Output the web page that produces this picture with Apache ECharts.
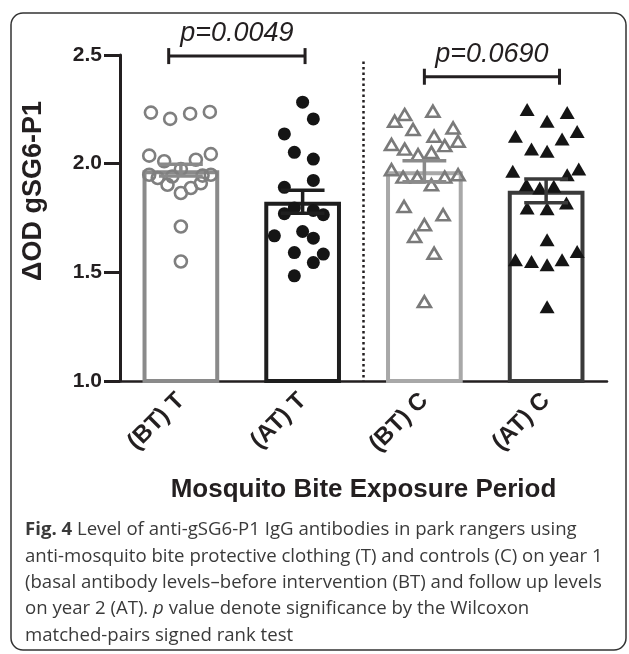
<!DOCTYPE html>
<html>
<head>
<meta charset="utf-8">
<script src="https://cdn.jsdelivr.net/npm/echarts@6/dist/echarts.min.js"></script>
<style>
html,body{margin:0;padding:0;background:#fff;}
#chart{width:629px;height:654px;}
</style>
</head>
<body>
<div id="chart"></div>
<script>
// ---- data ----
const categories = ['(BT) T', '(AT) T', '(BT) C', '(AT) C'];
const yMin = 1.0, yMax = 2.5, yStep = 0.5;
const means = [1.97, 1.825, 1.965, 1.875];
const sems = [0.027, 0.053, 0.048, 0.055];

const btTValues = [2.235, 2.206, 2.23, 2.238, 2.037, 2.011, 1.975, 2.018, 2.044, 1.949, 1.934, 1.941, 1.945, 1.949, 1.903, 1.865, 1.888, 1.91, 1.711, 1.55];
const btTJitter = [-0.246, -0.088, 0.076, 0.238, -0.26, -0.137, 0.0, 0.123, 0.246, -0.26, -0.19, -0.07, 0.178, 0.246, -0.11, 0.0, 0.082, 0.164, 0.0, 0.0];

const atTValues = [2.283, 2.206, 2.137, 2.052, 2.021, 1.891, 1.923, 1.77, 1.796, 1.785, 1.765, 1.668, 1.688, 1.657, 1.591, 1.584, 1.545, 1.484];
const atTJitter = [0.0, 0.088, -0.15, -0.068, 0.088, -0.15, 0.088, -0.15, -0.068, 0.088, 0.17, -0.232, 0.0, 0.088, -0.068, 0.17, 0.088, -0.068];

const btCValues = [2.241, 2.195, 2.226, 2.157, 2.164, 2.126, 2.103, 2.088, 2.067, 2.083, 2.041, 2.052, 1.972, 1.938, 1.938, 1.903, 1.938, 1.949, 1.803, 1.765, 1.719, 1.665, 1.588, 1.365];
const btCJitter = [0.07, -0.244, -0.162, -0.093, 0.236, 0.08, 0.277, -0.27, -0.162, 0.167, -0.052, 0.058, -0.27, -0.175, -0.058, 0.058, 0.167, 0.277, -0.167, 0.154, 0.0, -0.08, 0.08, 0.0];

const atCValues = [2.249, 2.236, 2.195, 2.126, 2.113, 2.148, 2.068, 2.057, 1.965, 1.949, 1.975, 1.903, 1.888, 1.896, 1.796, 1.793, 1.819, 1.65, 1.558, 1.55, 1.535, 1.558, 1.596, 1.342];
const atCJitter = [-0.156, 0.173, 0.008, -0.252, 0.131, 0.255, -0.12, 0.008, -0.274, 0.173, 0.268, -0.162, -0.052, 0.063, -0.156, 0.008, 0.167, 0.008, -0.252, -0.12, 0.008, 0.131, 0.255, 0.008];

const pLabels = ['p=0.0049', 'p=0.0690'];
const bracketStart = [-0.1, 2.0];
const bracketEnd = [1.02, 3.11];
const bracketLevel = [2.495, 2.40];
const dividerTop = 2.47;

const xTitle = 'Mosquito Bite Exposure Period';
const yTitle = '\u0394OD gSG6-P1';
const captionLines = [
  '{b|Fig. 4} Level of anti-gSG6-P1 IgG antibodies in park rangers using',
  'anti-mosquito bite protective clothing (T) and controls (C) on year 1',
  '(basal antibody levels\u2013before intervention (BT) and follow up levels',
  'on year 2 (AT). {i|p} value denote significance by the Wilcoxon',
  'matched-pairs signed rank test'
];

// ---- styles ----
const INK = '#231f20';
const FONT = '"Liberation Sans", Arial, sans-serif';
const CAPFONT = '"Open Sans", "Noto Sans", sans-serif';
const CAPSIZE = 18.6;
const barBorder = ['#8a8a8a', '#1e1e1e', '#a8a8a8', '#3a3a3a'];
const errColor = ['#8a8a8a', '#1e1e1e', '#8a8a8a', '#3a3a3a'];

function pts(vals, jit, idx) { return vals.map((v, i) => [idx + jit[i], v]); }

const chart = echarts.init(document.getElementById('chart'), null, {renderer: 'canvas'});

const option = {
  animation: false,
  backgroundColor: '#fff',
  grid: {left: 120, right: 22, top: 55, bottom: 273, containLabel: false},
  xAxis: [{
    type: 'category',
    data: categories,
    axisLine: {onZero: false, lineStyle: {color: INK, width: 2.5}},
    axisTick: {alignWithLabel: true, length: 11, lineStyle: {color: INK, width: 3.5}},
    axisLabel: {rotate: 45, margin: 16, color: INK, fontFamily: FONT, fontWeight: 'bold', fontSize: 24},
    name: xTitle,
    nameLocation: 'middle',
    nameGap: 96,
    nameTextStyle: {color: INK, fontFamily: FONT, fontWeight: 'bold', fontSize: 26}
  }, {
    type: 'value', min: -0.5, max: 3.5, show: false,
    axisLine: {onZero: false}
  }],
  yAxis: [{
    type: 'value', min: yMin, max: yMax, interval: yStep,
    axisLine: {show: true, onZero: false, lineStyle: {color: INK, width: 3}},
    axisTick: {show: true, length: 16, lineStyle: {color: INK, width: 3}},
    axisLabel: {margin: 18, color: INK, fontFamily: FONT, fontWeight: 'bold', fontSize: 21,
      formatter: v => v.toFixed(1)},
    splitLine: {show: false}
  }],
  series: [
    {
      type: 'bar', xAxisIndex: 0, yAxisIndex: 0, barWidth: '63%',
      data: means.map((m, i) => ({value: m, itemStyle: {color: 'rgba(255,255,255,0)', borderColor: barBorder[i], borderWidth: 4}})),
      z: 1
    },
    {
      type: 'scatter', xAxisIndex: 1, yAxisIndex: 0, z: 3,
      symbol: 'circle', symbolSize: 12,
      itemStyle: {color: 'rgba(255,255,255,0)', borderColor: '#7f7f7f', borderWidth: 2.6, opacity: 1},
      data: pts(btTValues, btTJitter, 0)
    },
    {
      type: 'scatter', xAxisIndex: 1, yAxisIndex: 0, z: 3,
      symbol: 'circle', symbolSize: 13,
      itemStyle: {color: '#151515', opacity: 1},
      data: pts(atTValues, atTJitter, 1)
    },
    {
      type: 'scatter', xAxisIndex: 1, yAxisIndex: 0, z: 3,
      symbol: 'triangle', symbolSize: [13, 11],
      itemStyle: {color: 'rgba(255,255,255,0)', borderColor: '#7a7a7a', borderWidth: 2.6, opacity: 1},
      data: pts(btCValues, btCJitter, 2)
    },
    {
      type: 'scatter', xAxisIndex: 1, yAxisIndex: 0, z: 3,
      symbol: 'triangle', symbolSize: [15, 13],
      itemStyle: {color: '#151515', opacity: 1},
      data: pts(atCValues, atCJitter, 3)
    },
    {
      // mean +/- SEM error bars
      type: 'custom', xAxisIndex: 1, yAxisIndex: 0, z: 5, clip: false,
      data: means.map((m, i) => [i, m, sems[i]]),
      renderItem: function (params, api) {
        const x = api.value(0), m = api.value(1), s = api.value(2);
        const top = api.coord([x, m + s]);
        const bot = api.coord([x, m - s]);
        const hw = api.size([0.18, 0])[0];
        const st = {stroke: errColor[params.dataIndex], lineWidth: 3.5};
        return {type: 'group', children: [
          {type: 'line', shape: {x1: top[0], y1: top[1], x2: bot[0], y2: bot[1]}, style: st},
          {type: 'line', shape: {x1: top[0] - hw, y1: top[1], x2: top[0] + hw, y2: top[1]}, style: st},
          {type: 'line', shape: {x1: bot[0] - hw, y1: bot[1], x2: bot[0] + hw, y2: bot[1]}, style: st}
        ]};
      }
    },
    {
      // dotted divider between T and C groups
      type: 'custom', xAxisIndex: 1, yAxisIndex: 0, z: 2, clip: false,
      data: [[1.5, dividerTop, yMin]],
      renderItem: function (params, api) {
        const a = api.coord([api.value(0), api.value(1)]);
        const b = api.coord([api.value(0), api.value(2)]);
        return {type: 'line', shape: {x1: a[0], y1: a[1], x2: b[0], y2: b[1]},
          style: {stroke: INK, lineWidth: 2.5, lineDash: [2.5, 3]}};
      }
    },
    {
      // significance brackets with p values
      type: 'custom', xAxisIndex: 1, yAxisIndex: 0, z: 6, clip: false,
      data: pLabels.map((p, i) => [bracketStart[i], bracketEnd[i], bracketLevel[i]]),
      renderItem: function (params, api) {
        const a = api.coord([api.value(0), api.value(2)]);
        const b = api.coord([api.value(1), api.value(2)]);
        const st = {stroke: INK, lineWidth: 3};
        const c = 8;
        return {type: 'group', children: [
          {type: 'line', shape: {x1: a[0], y1: a[1], x2: b[0], y2: b[1]}, style: st},
          {type: 'line', shape: {x1: a[0], y1: a[1] - c, x2: a[0], y2: a[1] + c}, style: st},
          {type: 'line', shape: {x1: b[0], y1: b[1] - c, x2: b[0], y2: b[1] + c}, style: st},
          {type: 'text', x: (a[0] + b[0]) / 2, y: a[1] - 9,
            style: {text: pLabels[params.dataIndex], fill: INK, fontFamily: FONT, fontStyle: 'italic',
              fontSize: 27, align: 'center', verticalAlign: 'bottom'}}
        ]};
      }
    }
  ],
  graphic: [
    {type: 'rect', shape: {x: 11, y: 13, width: 615, height: 637, r: 12}, z: -1,
      style: {fill: 'none', stroke: '#333', lineWidth: 1.5}},
    {type: 'text', x: 34, y: 191, rotation: Math.PI / 2, z: 10,
      style: {text: yTitle, fill: INK, fontFamily: FONT, fontWeight: 'bold', fontSize: 27,
        align: 'center', verticalAlign: 'middle'}}
  ].concat(captionLines.map((t, i) => ({
    type: 'text', x: 25, y: 530 + i * 26.4, z: 10,
    style: {
      text: t, fill: '#3a3a3a', fontFamily: CAPFONT, fontSize: CAPSIZE,
      verticalAlign: 'middle', align: 'left',
      rich: {
        b: {fontWeight: 'bold', fontFamily: CAPFONT, fontSize: CAPSIZE, fill: '#3a3a3a'},
        i: {fontStyle: 'italic', fontFamily: CAPFONT, fontSize: CAPSIZE, fill: '#3a3a3a'}
      }
    }
  })))
};
chart.setOption(option);
</script>
</body>
</html>
